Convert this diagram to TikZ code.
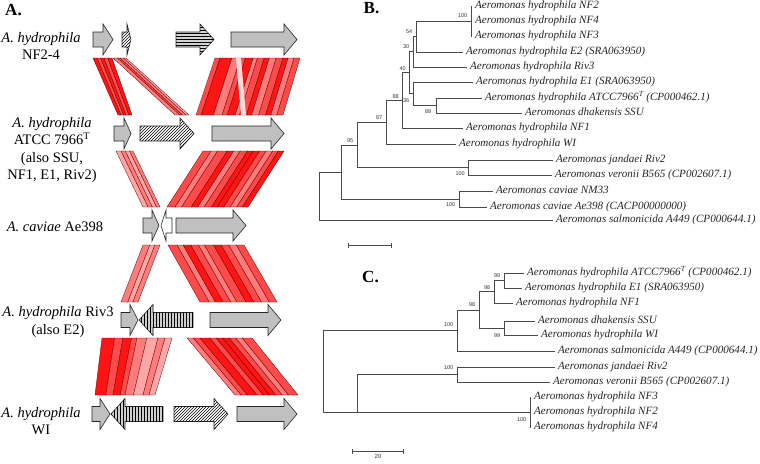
\documentclass[tikz,border=0pt]{standalone}
\usepackage{fontspec}
\setmainfont{Liberation Serif}
\newfontfamily\bootfont{Liberation Sans}
\usetikzlibrary{patterns,calc,positioning,arrows.meta}
\definecolor{redA}{HTML}{FF1414}
\definecolor{redB}{HTML}{FF4A4A}
\definecolor{redC}{HTML}{FF7C7C}
\definecolor{redD}{HTML}{FFA6A6}
\definecolor{redE}{HTML}{FFD8D8}
\definecolor{geneGray}{HTML}{C0C0C0}
\definecolor{treeGray}{HTML}{4A4A4A}
\tikzset{
  panellab/.style={font=\fontsize{17}{17}\selectfont\bfseries, inner sep=0pt},
  strainlab/.style={align=center, font=\fontsize{14.5}{17.5}\selectfont, inner sep=0pt},
  gene/.style={draw=black!85, line width=0.6pt, fill=geneGray},
  hatchgene/.style={fill=white, postaction={pattern=north east lines}},
  hlinegene/.style={fill=geneGray!70, postaction={pattern=horizontal lines}},
  vlinegene/.style={fill=geneGray!80, postaction={pattern=vertical lines}},
  whitegene/.style={fill=white},
  band/.style={draw=red!40!black, line width=0.3pt},
  branch/.style={draw=treeGray, line width=0.8pt},
  leaf/.style={anchor=west, inner xsep=3pt, inner ysep=0pt, text height=7.5pt, text depth=2.5pt,
    font=\fontsize{11.1}{13}\selectfont\itshape, text=black!85},
  boot/.style={font=\bootfont\fontsize{5.5}{6}\selectfont, inner sep=0.5pt, text=black!80}
}
% gene arrow: [style]{tail x}{head base x}{tip x}{centre y}
\newcommand{\gene}[5][]{%
  \draw[gene,#1] (#2,{#5-7.5}) -- (#3,{#5-7.5}) -- (#3,{#5-15.5}) -- (#4,#5)
    -- (#3,{#5+15.5}) -- (#3,{#5+7.5}) -- (#2,{#5+7.5}) -- cycle;}
% homology block cut in stripes: {block name}{from/to/colour list}
\newcommand{\stripeblock}[2]{%
  \foreach \a/\b/\clr in {#2}{
    \filldraw[band, fill=\clr] ($(#1tl)!\a!(#1tr)$) -- ($(#1tl)!\b!(#1tr)$)
      -- ($(#1bl)!\b!(#1br)$) -- ($(#1bl)!\a!(#1br)$) -- cycle;}}

\begin{document}
\begin{tikzpicture}[x=1pt,y=-1pt]
  \useasboundingbox (0,0) rectangle (760,463);

  \node[panellab] (labA) at (13.5,10.5) {A.};
  \node[panellab] (labB) at (371.5,8.5) {B.};
  \node[panellab] (labC) at (370.5,277) {C.};

  % strains
  \node[strainlab] (sNF) at (41,46) {\textit{A. hydrophila}\\NF2-4};
  \node[strainlab] (sATCC) at (52,150) {\textit{A. hydrophila}\\ATCC 7966\textsuperscript{T}\\(also SSU,\\NF1, E1, Riv2)};
  \node[strainlab] (sCav) at (55,227) {\textit{A. caviae} Ae398};
  \node[strainlab] (sRiv) at (58,322) {\textit{A. hydrophila} Riv3\\(also E2)};
  \node[strainlab] (sWI) at (41,421) {\textit{A. hydrophila}\\WI};

  % homology blocks
  \coordinate (b1Ltl) at (93,58);  \coordinate (b1Ltr) at (112,58);
  \coordinate (b1Lbl) at (118,115); \coordinate (b1Lbr) at (132,115);
  \coordinate (b1Dtl) at (113,58);  \coordinate (b1Dtr) at (126,58);
  \coordinate (b1Dbl) at (175,115); \coordinate (b1Dbr) at (189,115);
  \coordinate (b1Rtl) at (215,58);  \coordinate (b1Rtr) at (300,58);
  \coordinate (b1Rbl) at (196,115); \coordinate (b1Rbr) at (283,115);
  \coordinate (b2Ltl) at (116,151); \coordinate (b2Ltr) at (133,151);
  \coordinate (b2Lbl) at (143,207); \coordinate (b2Lbr) at (160,207);
  \coordinate (b2Rtl) at (203,151); \coordinate (b2Rtr) at (284,151);
  \coordinate (b2Rbl) at (167,207); \coordinate (b2Rbr) at (248,207);
  \coordinate (b3Ltl) at (143,245); \coordinate (b3Ltr) at (160,245);
  \coordinate (b3Lbl) at (121,302); \coordinate (b3Lbr) at (138,302);
  \coordinate (b3Rtl) at (168,245); \coordinate (b3Rtr) at (244,245);
  \coordinate (b3Rbl) at (200,302); \coordinate (b3Rbr) at (277,302);
  \coordinate (b4Ltl) at (102,338); \coordinate (b4Ltr) at (172,338);
  \coordinate (b4Lbl) at (95,395);  \coordinate (b4Lbr) at (155,395);
  \coordinate (b4Rtl) at (187,338); \coordinate (b4Rtr) at (252,338);
  \coordinate (b4Rbl) at (235,395); \coordinate (b4Rbr) at (298,395);

  \stripeblock{b1L}{0/.22/redA, .22/.4/redB, .4/.58/redA, .58/.78/redB, .78/1/redA}
  \stripeblock{b1D}{0/.35/redC, .35/.55/redB, .55/.8/redC, .8/1/redD}
  \stripeblock{b1R}{0/.06/redB, .06/.2/redA, .2/.3/redC, .3/.36/redB, .36/.45/redA, .45/.5/redC,
    .5/.58/redB, .58/.64/redA, .64/.72/redC, .72/.8/redB, .8/.86/redA, .86/.93/redC, .93/1/redB}
  \fill[redE] (236,58) -- (241,58) -- (246,115) -- (241,115) -- cycle;
  \stripeblock{b2L}{0/.3/redD, .3/.55/redC, .55/.8/redD, .8/1/redC}
  \stripeblock{b2R}{0/.1/redB, .1/.18/redC, .18/.3/redB, .3/.38/redA, .38/.46/redC, .46/.55/redB,
    .55/.62/redA, .62/.7/redA, .7/.78/redB, .78/.86/redC, .86/.93/redB, .93/1/redA}
  \stripeblock{b3L}{0/.4/redC, .4/.7/redD, .7/1/redC}
  \stripeblock{b3R}{0/.12/redB, .12/.2/redC, .2/.3/redA, .3/.4/redB, .4/.48/redC, .48/.6/redB,
    .6/.7/redA, .7/.8/redB, .8/.9/redC, .9/1/redB}
  \stripeblock{b4L}{0/.18/redA, .18/.3/redB, .3/.42/redA, .42/.5/redB, .5/.64/redC, .64/.8/redD,
    .8/.9/redC, .9/1/redD}
  \stripeblock{b4R}{0/.1/redC, .1/.2/redB, .2/.35/redA, .35/.45/redB, .45/.55/redA, .55/.65/redA,
    .65/.75/redB, .75/.85/redC, .85/1/redB}

  % genes
  \gene{93}{103}{113}{39.5}
  \gene[hatchgene]{122}{127}{131}{39.5}
  \gene[hlinegene]{176}{200}{214}{39.5}
  \gene{231}{284}{297}{39.5}

  \gene{114}{124}{131}{133.5}
  \gene[hatchgene]{140}{180}{194}{133.5}
  \gene{212}{271}{284}{133.5}

  \gene{143}{152}{159}{225.5}
  \gene[whitegene]{172}{166}{161}{225.5}
  \gene{176}{233}{246}{225.5}

  \gene{121}{130}{138}{320}
  \gene[vlinegene]{193}{153}{139}{320}
  \gene{210}{268}{281}{320}

  \gene{92}{100}{110}{414}
  \gene[vlinegene]{163}{125}{111}{414}
  \gene[hatchgene]{174}{214}{228}{414}
  \gene{237}{284}{297}{414}

  % tree B
  \coordinate (B-root) at (319,196);
  \coordinate (B-n1) at (341,171.9);
  \coordinate (B-95) at (357,144.9);
  \coordinate (B-87) at (386,122.2);
  \coordinate (B-88) at (402,100.4);
  \coordinate (B-40) at (409,72.75);
  \coordinate (B-30) at (413,51.75);
  \coordinate (B-54) at (416,36.5);
  \coordinate (B-nf) at (471,21);
  \coordinate (B-36) at (413,93.75);
  \coordinate (B-89) at (436,105.5);
  \coordinate (B-jv) at (468,167.5);
  \coordinate (B-cav) at (459,199);

  \node[leaf] (B-NF2) at (472,6) {Aeromonas hydrophila NF2};
  \node[leaf] (B-NF4) at (472,21) {Aeromonas hydrophila NF4};
  \node[leaf] (B-NF3) at (472,36) {Aeromonas hydrophila NF3};
  \node[leaf] (B-E2) at (463,52) {Aeromonas hydrophila E2 (SRA063950)};
  \node[leaf] (B-Riv3) at (467,67) {Aeromonas hydrophila Riv3};
  \node[leaf] (B-E1) at (473,82) {Aeromonas hydrophila E1 (SRA063950)};
  \node[leaf] (B-ATCC) at (482,98) {Aeromonas hydrophila ATCC7966\textsuperscript{T} (CP000462.1)};
  \node[leaf] (B-SSU) at (522,113) {Aeromonas dhakensis SSU};
  \node[leaf] (B-NF1) at (463,128) {Aeromonas hydrophila NF1};
  \node[leaf] (B-WI) at (456,144) {Aeromonas hydrophila WI};
  \node[leaf] (B-Riv2) at (553,160) {Aeromonas jandaei Riv2};
  \node[leaf] (B-B565) at (552,175) {Aeromonas veronii B565 (CP002607.1)};
  \node[leaf] (B-NM33) at (493,191) {Aeromonas caviae NM33};
  \node[leaf] (B-Ae398) at (487,207) {Aeromonas caviae Ae398 (CACP00000000)};
  \node[leaf] (B-A449) at (553,220) {Aeromonas salmonicida A449 (CP000644.1)};

  \draw[branch] (B-root) |- (B-n1) (B-root) |- (B-A449.west);
  \draw[branch] (B-n1) |- (B-95) (B-n1) |- (B-cav);
  \draw[branch] (B-95) |- (B-87) (B-95) |- (B-jv);
  \draw[branch] (B-87) |- (B-88) (B-87) |- (B-WI.west);
  \draw[branch] (B-88) |- (B-40) (B-88) |- (B-NF1.west);
  \draw[branch] (B-40) |- (B-30) (B-40) |- (B-36);
  \draw[branch] (B-30) |- (B-54) (B-30) |- (B-Riv3.west);
  \draw[branch] (B-54) |- (B-nf) (B-54) |- (B-E2.west);
  \draw[branch] (B-nf) |- (B-NF2.west) (B-nf) |- (B-NF4.west) (B-nf) |- (B-NF3.west);
  \draw[branch] (B-36) |- (B-E1.west) (B-36) |- (B-89);
  \draw[branch] (B-89) |- (B-ATCC.west) (B-89) |- (B-SSU.west);
  \draw[branch] (B-jv) |- (B-Riv2.west) (B-jv) |- (B-B565.west);
  \draw[branch] (B-cav) |- (B-NM33.west) (B-cav) |- (B-Ae398.west);

  \node[boot, above left=2.5pt and 3pt of B-nf] {100};
  \node[boot, above left=2pt and 3pt of B-54] {54};
  \node[boot, above left=2pt and 3pt of B-30] {30};
  \node[boot, above left=1.5pt and 2.5pt of B-40] {40};
  \node[boot, below left=4pt and 3pt of B-36] {36};
  \node[boot, above left=1.5pt and 2.5pt of B-88] {88};
  \node[boot, below left=3.5pt and 4pt of B-89] {89};
  \node[boot, above left=2pt and 3pt of B-87] {87};
  \node[boot, above left=2pt and 3pt of B-95] {95};
  \node[boot, below left=3.5pt and 2.5pt of B-jv] {100};
  \node[boot, below left=2.5pt and 3pt of B-cav] {100};

  \coordinate (B-sb1) at (348,245);
  \coordinate (B-sb2) at (392,245);
  \draw[branch, {Bar[width=5pt]}-{Bar[width=5pt]}] (B-sb1) -- (B-sb2);

  % tree C
  \coordinate (C-root) at (323,371.2);
  \coordinate (C-100a) at (457,330.4);
  \coordinate (C-98b) at (479,309.9);
  \coordinate (C-98a) at (494,291.75);
  \coordinate (C-99a) at (504,280.5);
  \coordinate (C-99b) at (504,328);
  \coordinate (C-low) at (357,412);
  \coordinate (C-jv) at (457,374.5);
  \coordinate (C-nf) at (530,412);

  \node[leaf] (C-ATCC) at (524,273) {Aeromonas hydrophila ATCC7966\textsuperscript{T} (CP000462.1)};
  \node[leaf] (C-E1) at (522,288) {Aeromonas hydrophila E1 (SRA063950)};
  \node[leaf] (C-NF1) at (513,303) {Aeromonas hydrophila NF1};
  \node[leaf] (C-SSU) at (535,321) {Aeromonas dhakensis SSU};
  \node[leaf] (C-WI) at (538,335) {Aeromonas hydrophila WI};
  \node[leaf] (C-A449) at (555,351) {Aeromonas salmonicida A449 (CP000644.1)};
  \node[leaf] (C-Riv2) at (555,367) {Aeromonas jandaei Riv2};
  \node[leaf] (C-B565) at (550,382) {Aeromonas veronii B565 (CP002607.1)};
  \node[leaf] (C-NF3) at (531,397) {Aeromonas hydrophila NF3};
  \node[leaf] (C-NF2) at (531,412) {Aeromonas hydrophila NF2};
  \node[leaf] (C-NF4) at (531,427) {Aeromonas hydrophila NF4};

  \draw[branch] (C-root) |- (C-100a) (C-root) |- (C-low);
  \draw[branch] (C-100a) |- (C-98b) (C-100a) |- (C-A449.west);
  \draw[branch] (C-98b) |- (C-98a) (C-98b) |- (C-99b);
  \draw[branch] (C-98a) |- (C-99a) (C-98a) |- (C-NF1.west);
  \draw[branch] (C-99a) |- (C-ATCC.west) (C-99a) |- (C-E1.west);
  \draw[branch] (C-99b) |- (C-SSU.west) (C-99b) |- (C-WI.west);
  \draw[branch] (C-low) |- (C-jv) (C-low) -- (C-nf);
  \draw[branch] (C-jv) |- (C-Riv2.west) (C-jv) |- (C-B565.west);
  \draw[branch] (C-nf) |- (C-NF3.west) (C-nf) |- (C-NF2.west) (C-nf) |- (C-NF4.west);

  \node[boot, above left=2.5pt and 3pt of C-99a] {99};
  \node[boot, above left=1.5pt and 3pt of C-98a] {98};
  \node[boot, above left=2.5pt and 3pt of C-98b] {98};
  \node[boot, below left=4.5pt and 3pt of C-99b] {99};
  \node[boot, above left=3.5pt and 3pt of C-100a] {100};
  \node[boot, above left=4.5pt and 3pt of C-jv] {100};
  \node[boot, below left=5pt and 3pt of C-nf] {100};

  \coordinate (C-sb1) at (352,451);
  \coordinate (C-sb2) at (404,451);
  \draw[branch, {Bar[width=5pt]}-{Bar[width=5pt]}] (C-sb1) -- (C-sb2);
  \node[boot, font=\bootfont\fontsize{6}{6}\selectfont, below=3pt of $(C-sb1)!.5!(C-sb2)$] (C-sbl) {20};
\end{tikzpicture}
\end{document}
